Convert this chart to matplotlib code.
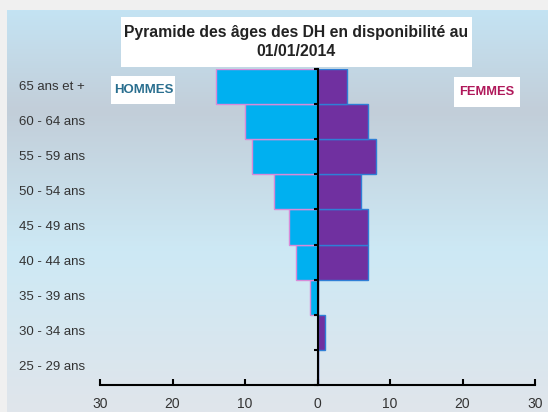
import numpy as np
import matplotlib.pyplot as plt
from matplotlib.colors import LinearSegmentedColormap
from matplotlib.patches import Rectangle
from matplotlib.ticker import FuncFormatter
import matplotlib.transforms as mtransforms

plt.rcParams['font.family'] = ['Liberation Sans', 'DejaVu Sans']

# Données
tranches = ["25 - 29 ans", "30 - 34 ans", "35 - 39 ans", "40 - 44 ans", "45 - 49 ans",
            "50 - 54 ans", "55 - 59 ans", "60 - 64 ans", "65 ans et +"]
hommes = [0, 0, 1, 3, 4, 6, 9, 10, 14]
femmes = [0, 1, 0, 7, 7, 6, 8, 7, 4]
graduations = [-30, -20, -10, 0, 10, 20, 30]

W, H = 548, 412
fig = plt.figure(figsize=(W / 100, H / 100), dpi=100)
fig.patch.set_facecolor("#f0f0f0")

# Fond dégradé
bg = fig.add_axes([7 / W, 0, 1 - 7 / W, 1 - 10 / H])
cmap = LinearSegmentedColormap.from_list(
    "fond", [(0, "#c4e3f3"), (0.25, "#c2ced9"), (0.6, "#cde9f5"), (1, "#e0e5eb")])
grad = np.linspace(0, 1, 256).reshape(-1, 1)
bg.imshow(grad, aspect="auto", cmap=cmap, extent=[0, 1, 0, 1], origin="upper")
bg.axis("off")

ax = fig.add_axes([100 / W, 27 / H, 435 / W, 316 / H])
ax.patch.set_alpha(0)

y = np.arange(len(tranches))
ax.barh(y, [-h for h in hommes], height=1.0, color="#00b0f0", edgecolor="#d98ad8", linewidth=1)
ax.barh(y, femmes, height=1.0, color="#7030a0", edgecolor="#2f7fd6", linewidth=1)

ax.set_xlim(-30, 30)
ax.set_ylim(-0.5, 8.5)

for s in ["top", "right"]:
    ax.spines[s].set_visible(False)
ax.spines["left"].set_position(("data", 0))
ax.spines["left"].set_linewidth(1.5)
ax.spines["bottom"].set_linewidth(1.5)
ax.set_yticks(np.arange(-0.5, 9, 1))
ax.set_yticklabels([])
ax.tick_params(axis="y", direction="out", length=3, width=1.5)
ax.set_xticks(graduations)
ax.xaxis.set_major_formatter(FuncFormatter(lambda v, p: f"{abs(int(v))}"))
ax.tick_params(axis="x", direction="in", length=4, width=1.5, labelsize=10,
               labelcolor="#333333", pad=9)

# Libellés des tranches d'âge
trans = mtransforms.blended_transform_factory(fig.transFigure, ax.transData)
for i, t in enumerate(tranches):
    ax.text(85 / W, i, t, transform=trans, ha="right", va="center",
            fontsize=9.5, color="#333333")

# Encadrés blancs
for x0, y0, x1, y1 in [(121, 17, 472, 67), (111, 76, 175, 104), (454, 77, 520, 107)]:
    fig.patches.append(Rectangle((x0 / W, 1 - y1 / H), (x1 - x0) / W, (y1 - y0) / H,
                                 transform=fig.transFigure, facecolor="white",
                                 edgecolor="none", zorder=1))

fig.text(296 / W, 1 - 42 / H, "Pyramide des âges des DH en disponibilité au\n01/01/2014",
         ha="center", va="center", fontsize=11.3, fontweight="bold", color="#222222",
         linespacing=1.4, zorder=2)
fig.text(144 / W, 1 - 90 / H, "HOMMES", ha="center", va="center", fontsize=9.5,
         fontweight="bold", color="#2a6f8f", zorder=2)
fig.text(487 / W, 1 - 92 / H, "FEMMES", ha="center", va="center", fontsize=9.3,
         fontweight="bold", color="#b0185a", zorder=2)

fig.savefig("out.png", dpi=100)
